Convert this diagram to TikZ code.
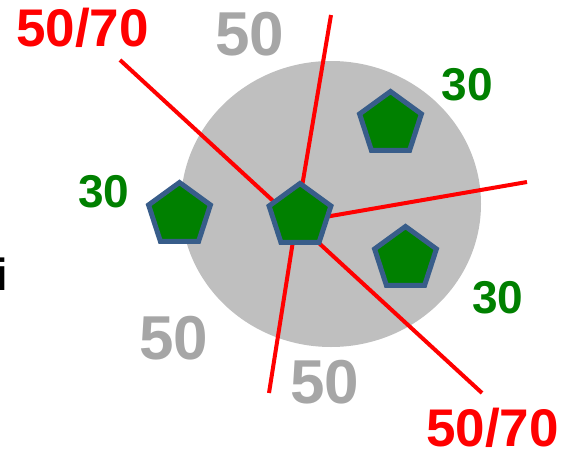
\documentclass[tikz,border=0pt]{standalone}
\usepackage{fontspec}
\setmainfont{Liberation Sans}
\usepackage{xcolor}
\usetikzlibrary{shapes.geometric, positioning}

\definecolor{discgrey}{RGB}{191,191,191}
\definecolor{labelgrey}{RGB}{166,166,166}
\definecolor{pentagreen}{RGB}{0,128,0}
\definecolor{pentaedge}{RGB}{56,93,138}
\definecolor{cutred}{RGB}{255,0,0}

\begin{document}
\begin{tikzpicture}[
    x=1pt, y=-1pt,
    penta/.style={draw=pentaedge, fill=pentagreen, regular polygon, regular polygon sides=5, minimum size=65pt, inner sep=0pt, line width=5pt, line join=miter},
    cutline/.style={draw=cutred, line width=4pt},
    redlbl/.style={inner sep=0pt, text=cutred, font=\fontsize{53}{53}\selectfont\bfseries},
    greylbl/.style={inner sep=0pt, text=labelgrey, font=\fontsize{62}{62}\selectfont\bfseries},
    greenlbl/.style={inner sep=0pt, text=pentagreen, font=\fontsize{46}{46}\selectfont\bfseries}
]
    \useasboundingbox (0,0) rectangle (571,450);

    % --- Disc ---
    \fill[discgrey] (331,204) ellipse [x radius=150, y radius=143];

    % --- Cut lines ---
    \coordinate (hub) at (296,222);
    \coordinate (endnw) at (120,60);
    \coordinate (endse) at (482,393);
    \coordinate (endn) at (331,15);
    \coordinate (ends) at (269,393);
    \coordinate (ende) at (527,182);
    \draw[cutline] (hub) -- (endnw);
    \draw[cutline] (hub) -- (endse);
    \draw[cutline] (hub) -- (endn);
    \draw[cutline] (hub) -- (ends);
    \draw[cutline] (hub) -- (ende);

    % --- Pentagons ---
    \node[penta] (pmid) at (300,216) {};
    \node[penta] (pleft) at (179.5,215) {};
    \node[penta] (pup) at (390.5,124) {};
    \node[penta] (plow) at (405.5,259) {};

    % --- Labels ---
    \node[redlbl] (cuttop) at (82.5,27.5) {50/70};
    \node[redlbl] (cutbot) at (492.5,427.5) {50/70};
    \node[greylbl] (gtop) at (250,34.5) {50};
    \node[greylbl] (gleft) at (174,338.5) {50};
    \node[greylbl] (gbot) at (325,382.5) {50};
    \node[greenlbl] (wup) at (467.5,85) {30};
    \node[greenlbl] (wlow) at (498,297.5) {30};
    \node[greenlbl] (wleft) at (104,191.5) {30};
    \node[inner sep=0pt, anchor=base west, font=\fontsize{45}{45}\selectfont\bfseries] (cuti) at (-4.5,290) {i};

\end{tikzpicture}
\end{document}
